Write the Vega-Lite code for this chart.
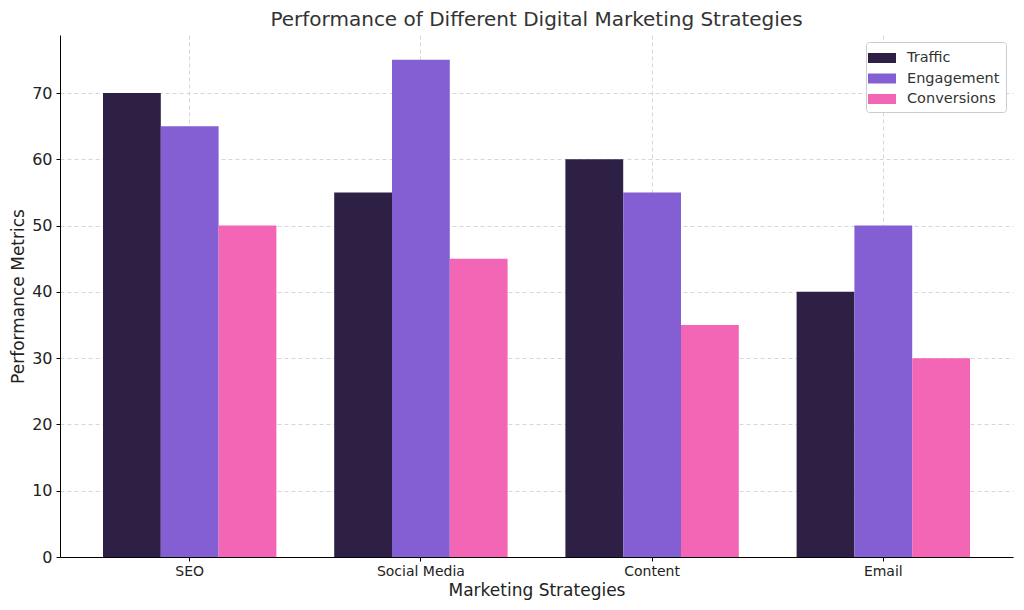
{
  "$schema": "https://vega.github.io/schema/vega-lite/v6.json",
  "width": 953,
  "height": 522,
  "autosize": "none",
  "padding": {"left": 60, "top": 35, "right": 11, "bottom": 53},
  "background": "white",
  "title": {"text": "Performance of Different Digital Marketing Strategies", "offset": 5},
  "data": {
    "values": [
      {"Strategy": "SEO", "Metric": "Traffic", "Value": 70},
      {"Strategy": "SEO", "Metric": "Engagement", "Value": 65},
      {"Strategy": "SEO", "Metric": "Conversions", "Value": 50},
      {"Strategy": "Social Media", "Metric": "Traffic", "Value": 55},
      {"Strategy": "Social Media", "Metric": "Engagement", "Value": 75},
      {"Strategy": "Social Media", "Metric": "Conversions", "Value": 45},
      {"Strategy": "Content", "Metric": "Traffic", "Value": 60},
      {"Strategy": "Content", "Metric": "Engagement", "Value": 55},
      {"Strategy": "Content", "Metric": "Conversions", "Value": 35},
      {"Strategy": "Email", "Metric": "Traffic", "Value": 40},
      {"Strategy": "Email", "Metric": "Engagement", "Value": 50},
      {"Strategy": "Email", "Metric": "Conversions", "Value": 30}
    ]
  },
  "mark": {"type": "bar"},
  "encoding": {
    "x": {
      "field": "Strategy",
      "type": "nominal",
      "sort": ["SEO", "Social Media", "Content", "Email"],
      "title": "Marketing Strategies",
      "scale": {"paddingInner": 0.25, "paddingOuter": 0.186},
      "axis": {"labelAngle": 0, "bandPosition": 0.5, "grid": true, "labelFontSize": 14, "labelPadding": 3, "titlePadding": 4}
    },
    "xOffset": {
      "field": "Metric",
      "type": "nominal",
      "sort": ["Traffic", "Engagement", "Conversions"],
      "scale": {"paddingInner": 0, "paddingOuter": 0}
    },
    "y": {
      "field": "Value",
      "type": "quantitative",
      "title": "Performance Metrics",
      "scale": {"domain": [0, 78.75], "nice": false},
      "axis": {"values": [0, 10, 20, 30, 40, 50, 60, 70], "labelFontSize": 16, "labelPadding": 4, "titlePadding": 4}
    },
    "color": {
      "field": "Metric",
      "type": "nominal",
      "sort": ["Traffic", "Engagement", "Conversions"],
      "scale": {"domain": ["Traffic", "Engagement", "Conversions"], "range": ["#2e1f44", "#845fd3", "#f266b5"]},
      "legend": {
        "title": null,
        "orient": "top-right",
        "offset": 7,
        "symbolType": "M-1.4,-0.5H1.4V0.5H-1.4Z",
        "symbolSize": 400,
        "symbolStrokeWidth": 0,
        "labelFontSize": 14.5,
        "labelOffset": 15,
        "rowPadding": 3.5,
        "padding": 6,
        "strokeColor": "#cccccc",
        "fillColor": "white",
        "cornerRadius": 3
      }
    }
  },
  "config": {
    "font": "DejaVu Sans",
    "view": {"stroke": null},
    "title": {"fontSize": 20, "fontWeight": "normal", "color": "#333333"},
    "axis": {
      "domainColor": "black",
      "tickColor": "black",
      "tickSize": 4,
      "labelColor": "#222222",
      "titleColor": "#222222",
      "titleFontSize": 17,
      "titleFontWeight": "normal",
      "gridColor": "#cccccc",
      "gridDash": [4, 3],
      "gridWidth": 0.8
    },
    "legend": {"labelColor": "#333333"}
  }
}
